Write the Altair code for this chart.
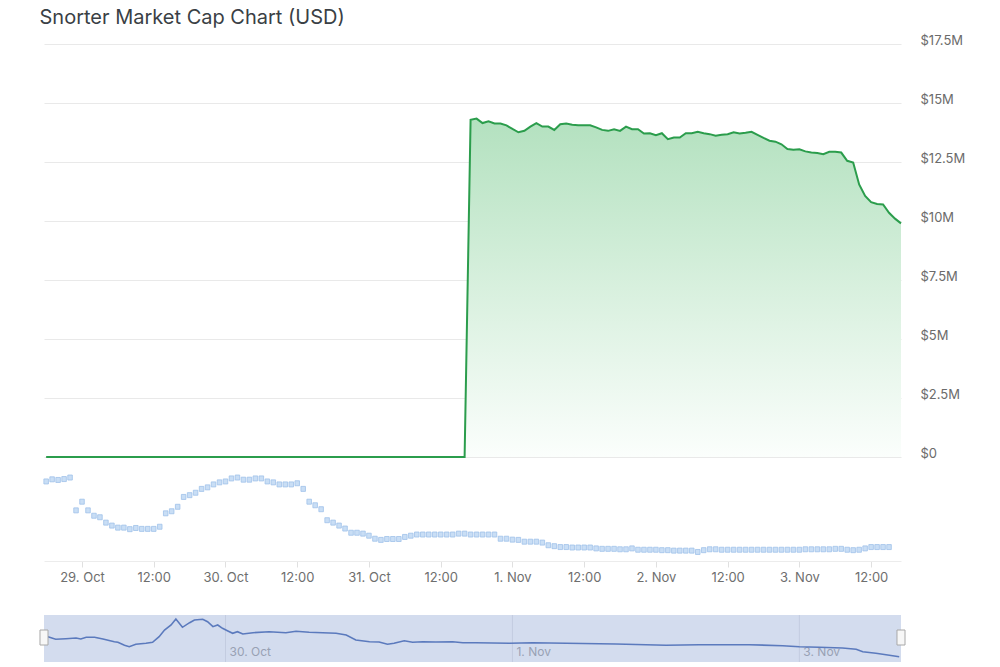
import altair as alt
import pandas as pd

TITLE = "Snorter Market Cap Chart (USD)"
FIRST_HOUR_OFFSET = -6   # first hourly sample = 28 Oct 18:00 (hours after 29 Oct 00:00)

# market cap in millions USD, hourly from 28 Oct 18:00 to 3 Nov 17:00
market_cap_musd = [
    0, 0, 0, 0, 0, 0, 0, 0, 0, 0, 0, 0,
    0, 0, 0, 0, 0, 0, 0, 0, 0, 0, 0, 0,
    0, 0, 0, 0, 0, 0, 0, 0, 0, 0, 0, 0,
    0, 0, 0, 0, 0, 0, 0, 0, 0, 0, 0, 0,
    0, 0, 0, 0, 0, 0, 0, 0, 0, 0, 0, 0,
    0, 0, 0, 0, 0, 0, 0, 0, 0, 0, 0,
    14.29, 14.34, 14.15, 14.22, 14.13, 14.13, 14.05, 13.90, 13.76, 13.82,
    14.00, 14.15, 14.00, 14.00, 13.86, 14.10, 14.13, 14.08, 14.06, 14.06,
    14.06, 13.97, 13.86, 13.82, 13.89, 13.82, 14.00, 13.89, 13.89, 13.71,
    13.72, 13.64, 13.72, 13.47, 13.54, 13.54, 13.72, 13.72, 13.78, 13.72,
    13.68, 13.61, 13.65, 13.68, 13.76, 13.71, 13.74, 13.78, 13.65, 13.52,
    13.40, 13.36, 13.25, 13.05, 13.02, 13.04, 12.95, 12.90, 12.88, 12.83,
    12.93, 12.93, 12.90, 12.55, 12.48, 11.55, 11.06, 10.80, 10.72, 10.70,
    10.35, 10.10, 9.90,
]

# hourly volume (relative units, $K), from 28 Oct 18:00 to 3 Nov 15:00
volume_k = [
    83.3, 85.7, 85.0, 86.0, 87.7, 51.0, 60.7, 51.0, 45.0, 43.3, 37.3, 34.0,
    31.7, 31.7, 30.0, 31.3, 30.3, 30.3, 30.3, 32.7, 47.7, 50.0, 55.0, 66.0,
    68.0, 70.7, 75.0, 76.7, 80.0, 82.3, 83.3, 86.7, 87.7, 85.3, 85.3, 86.7,
    86.7, 83.3, 82.3, 80.0, 80.0, 80.0, 81.3, 75.0, 60.7, 56.7, 52.3, 40.0,
    37.3, 34.0, 30.7, 26.0, 26.0, 25.0, 22.7, 19.3, 18.0, 19.0,
    19.0, 19.0, 21.3, 22.7, 24.0, 24.0, 24.0, 24.0, 24.0, 24.0,
    24.0, 25.0, 25.0, 24.0, 24.0, 24.0, 24.0, 24.0, 19.3, 19.3,
    18.3, 18.0, 16.0, 16.0, 16.0, 15.0, 12.0, 11.0, 10.0, 10.0,
    9.5, 9.5, 9.5, 9.5, 8.5, 8.0, 8.0, 8.0,
    7.5, 7.5, 8.5, 7.0, 7.0, 7.0, 7.0, 6.5, 6.5, 6.0,
    6.0, 6.0, 6.0, 4.5, 6.5, 7.5, 7.5, 7.0, 7.0, 7.0,
    7.0, 7.0, 7.0, 7.0, 7.0, 7.0, 7.0, 7.0, 7.0, 7.0,
    7.0, 7.5, 7.5, 7.5, 7.5, 7.5, 8.0, 8.0, 7.0, 6.5,
    7.0, 8.5, 10.0, 10.0, 10.0, 10.0,
]

# navigator series: hours after 29 Oct 00:00, relative value
nav_offset_h = [
    -5.7, -4.4, -2.7, -1.0, -0.2, 0.7, 2.1, 3.5, 5.4, 6.0,
    7.1, 7.9, 9.0, 10.7, 11.8, 12.9, 13.8, 14.9, 15.7, 16.8,
    18.0, 18.8, 20.2, 21.0, 21.9, 22.7, 23.5, 24.4, 25.2, 26.0,
    26.9, 28.6, 31.3, 34.1, 35.8, 38.0, 42.5, 44.2, 45.8, 48.1,
    49.7, 51.1, 52.2, 53.9, 55.3, 57.0, 59.2, 62.0, 63.7, 65.9,
    71.5, 75.4, 81.0, 89.3, 97.7, 103.2, 111.6, 117.2, 120.0, 123.3,
    127.2, 129.5, 130.6, 132.8, 134.5, 136.7,
]
nav_value = [
    25.3, 22.7, 23.3, 24.0, 23.0, 24.7, 24.7, 23.0, 20.3, 19.7,
    16.7, 15.3, 17.7, 18.7, 19.7, 25.3, 32.0, 37.0, 43.0, 34.7,
    39.3, 42.0, 42.7, 40.3, 35.3, 37.0, 33.7, 31.0, 28.7, 30.3,
    28.0, 29.3, 30.3, 29.3, 30.7, 29.7, 28.7, 27.0, 22.0, 20.3,
    20.0, 17.7, 18.7, 21.3, 19.7, 20.3, 20.0, 20.3, 19.3, 19.3,
    18.7, 19.3, 18.7, 18.0, 16.7, 17.3, 17.3, 16.3, 15.3, 14.7,
    14.0, 12.7, 10.3, 8.7, 7.3, 5.3,
]

y_ticks_musd = [0, 2.5, 5, 7.5, 10, 12.5, 15, 17.5]
x_tick_hours = [0, 12, 24, 36, 48, 60, 72, 84, 96, 108, 120, 132]
nav_label_hours = [24, 72, 120]
nav_labels = ["30. Oct", "1. Nov", "3. Nov"]
X_RANGE = [-6.36, 137.0]   # visible window, hours after 29 Oct 00:00

FONT = "Inter"

mc_df = pd.DataFrame({
    "h": [FIRST_HOUR_OFFSET + i for i in range(len(market_cap_musd))],
    "cap": [v * 1e6 for v in market_cap_musd],
})
vol_df = pd.DataFrame({
    "h": [FIRST_HOUR_OFFSET + i for i in range(len(volume_k))],
    "vol": volume_k,
})
nav_df = pd.DataFrame({"h": nav_offset_h, "v": nav_value})
nav_bg_df = pd.DataFrame({"h0": [X_RANGE[0]], "h1": [X_RANGE[1]], "v0": [0], "v1": [47]})
nav_grid_df = pd.DataFrame({"h": nav_label_hours, "label": nav_labels, "v0": [0] * 3, "v1": [47] * 3, "ty": [10] * 3})
handle_df = pd.DataFrame({"h": X_RANGE, "v0": [17, 17], "v1": [32, 32]})

xs = alt.Scale(domain=X_RANGE, nice=False, zero=False)

gradient = alt.Gradient(
    gradient="linear",
    stops=[
        alt.GradientStop(color="#fbfefc", offset=0),
        alt.GradientStop(color="#d8f0de", offset=0.5),
        alt.GradientStop(color="#b3e1bf", offset=1),
    ],
    x1=1, x2=1, y1=1, y2=0,
)

y_axis = alt.Axis(
    orient="right",
    values=[v * 1e6 for v in y_ticks_musd],
    format="$.3~s",
    title=None, domain=False, ticks=False,
    labelAlign="left", labelPadding=19, labelBaseline="alphabetic",
    labelFont=FONT, labelFontSize=13, labelColor="#6b6b6b",
    grid=True, gridColor="#e9e9e9", gridWidth=1,
)

base_main = alt.Chart(mc_df).encode(
    x=alt.X("h:Q", scale=xs, axis=None),
    y=alt.Y("cap:Q", scale=alt.Scale(domain=[0, 17.5e6], nice=False), axis=y_axis),
)
area = base_main.mark_area(color=gradient)
line = base_main.mark_line(color="#2b9d4c", strokeWidth=2)
main = alt.layer(area, line).properties(width=857, height=413)

x_label_expr = (
    "datum.value % 24 == 0 ? "
    "(datum.value < 72 ? (29 + datum.value / 24) + '. Oct' : (datum.value / 24 - 2) + '. Nov') "
    ": '12:00'"
)

vol = alt.Chart(vol_df).transform_calculate(
    h0="datum.h - 0.38", h1="datum.h + 0.38"
).mark_bar(fill="#c9def5", stroke="#9fc2ea", strokeWidth=0.8).encode(
    x=alt.X("h0:Q", scale=xs, axis=alt.Axis(
        title=None, values=x_tick_hours, labelExpr=x_label_expr,
        labelFont=FONT, labelFontSize=13, labelColor="#6e6e6e",
        tickColor="#e0e0e0", tickSize=6, domainColor="#ececec",
        labelPadding=4, grid=False, labelFlush=False, labelOverlap=False,
    )),
    x2="h1:Q",
    y=alt.Y("vol:Q", scale=alt.Scale(domain=[0, 95], nice=False), axis=None),
).properties(width=857, height=95)

nav_ys = alt.Scale(domain=[0, 73], nice=False)

nav_bg = alt.Chart(nav_bg_df).mark_rect(color="#d3dcee").encode(
    x=alt.X("h0:Q", scale=xs, axis=None),
    x2="h1:Q",
    y=alt.Y("v0:Q", scale=nav_ys, axis=None),
    y2="v1:Q",
)
nav_grid = alt.Chart(nav_grid_df).mark_rule(color="#c3cce0", strokeWidth=1).encode(
    x=alt.X("h:Q", scale=xs), y=alt.Y("v0:Q", scale=nav_ys), y2="v1:Q",
)
nav_text = alt.Chart(nav_grid_df).mark_text(
    align="left", baseline="middle", dx=4, font=FONT, fontSize=12, color="#98a1b4"
).encode(
    x=alt.X("h:Q", scale=xs), y=alt.Y("ty:Q", scale=nav_ys), text="label:N",
)
nav_line = alt.Chart(nav_df).mark_line(color="#5b7abd", strokeWidth=1.6).encode(
    x=alt.X("h:Q", scale=xs),
    y=alt.Y("v:Q", scale=nav_ys),
)
handles = alt.Chart(handle_df).transform_calculate(
    h0="datum.h - 0.67", h1="datum.h + 0.67"
).mark_bar(fill="#f7f7f7", stroke="#a8a8a8", strokeWidth=1).encode(
    x=alt.X("h0:Q", scale=xs),
    x2="h1:Q",
    y=alt.Y("v0:Q", scale=nav_ys),
    y2="v1:Q",
)

nav = alt.layer(nav_bg, nav_grid, nav_text, nav_line, handles).properties(width=857, height=73)

chart = alt.vconcat(main, vol, nav, spacing=5).properties(
    title=alt.TitleParams(
        text=TITLE, anchor="start", font=FONT, fontSize=20, fontWeight="normal",
        color="#3a3f45", offset=6,
    ),
    padding={"left": 31, "top": 0, "right": 5, "bottom": 0},
).configure_view(stroke=None)

chart.save("out.html", embed_options={"renderer": "svg", "actions": False})
